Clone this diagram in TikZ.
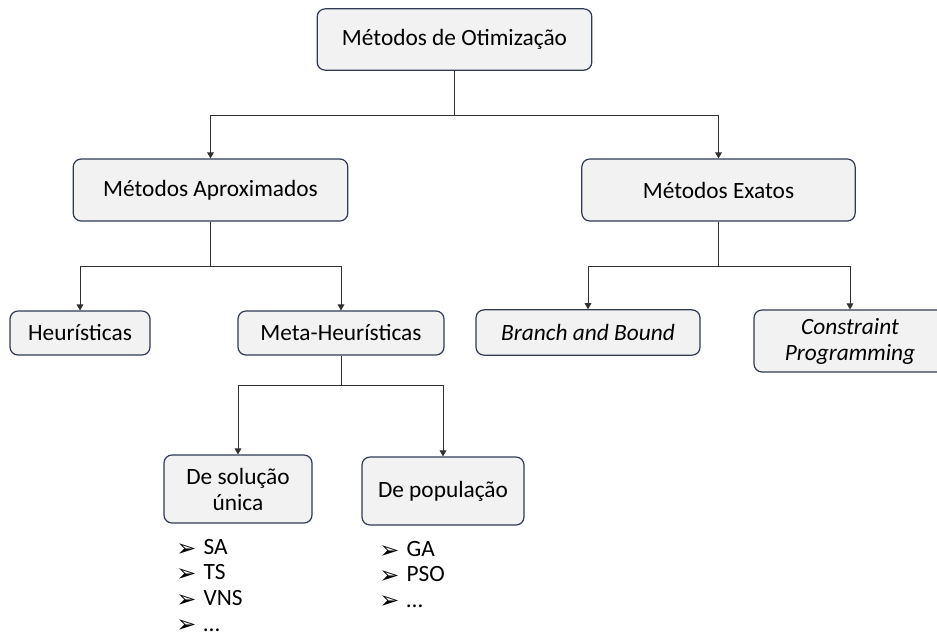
\documentclass[tikz,border=0pt]{standalone}
\usepackage{fontspec}
\setmainfont{Carlito}
\newfontfamily\dingfont{DejaVu Sans}
\usetikzlibrary{arrows.meta}
\definecolor{boxline}{HTML}{2F3B55}
\definecolor{boxfill}{HTML}{F2F2F2}
\definecolor{wire}{HTML}{303030}
% arrowhead bullet for the method lists
\newcommand{\bul}{\makebox[20.5pt][l]{\dingfont\fontsize{18pt}{18pt}\selectfont\raisebox{-1pt}{➢}}}
\tikzset{
  box/.style={draw=boxline, fill=boxfill, line width=0.9pt, rounded corners=6pt,
    align=center, inner sep=2pt, font=\fontsize{17.5pt}{19.5pt}\selectfont},
  wireline/.style={draw=wire, line width=0.75pt},
  arr/.style={wireline, -{Triangle[length=4.5pt,width=5pt]}},
  listitem/.style={anchor=west, inner sep=0pt, font=\fontsize{17.5pt}{20pt}\selectfont}
}
\begin{document}
\begin{tikzpicture}[x=0.75pt, y=-0.75pt]
\useasboundingbox (0,0) rectangle (937,637);
\begin{scope}
\clip (0,0) rectangle (937,637);

% boxes
\node[box, minimum width=206pt, minimum height=46pt] (top) at (454.5,39.5) {Métodos de Otimização};
\node[box, minimum width=206pt, minimum height=46.5pt] (aprox) at (210.5,190) {Métodos Aproximados};
\node[box, minimum width=205pt, minimum height=46.5pt] (exatos) at (718.5,190) {Métodos Exatos};
\node[box, minimum width=105pt, minimum height=33pt] (heur) at (80,333) {Heurísticas};
\node[box, minimum width=154.5pt, minimum height=33pt] (meta) at (341,333) {Meta-Heurísticas};
\node[box, minimum width=168pt, minimum height=34pt, font=\fontsize{17.5pt}{19.5pt}\selectfont\itshape] (bb) at (588,332.5) {Branch and Bound};
\node[box, minimum width=144pt, minimum height=46.5pt, font=\fontsize{17.5pt}{19.5pt}\selectfont\itshape] (cp) at (850,341) {Constraint\\Programming};
\node[box, minimum width=111pt, minimum height=51pt] (unica) at (238,489) {De solução\\única};
\node[box, minimum width=121.5pt, minimum height=51pt] (pop) at (443,491) {De população};

% junctions
\coordinate (j1) at (454.5,115);
\coordinate (j2) at (210.5,266);
\coordinate (j3) at (718.5,266);
\coordinate (j4) at (341,385);

% connectors
\draw[wireline] (top.south) -- (j1);
\draw[arr] (j1) -| (aprox.north);
\draw[arr] (j1) -| (exatos.north);
\draw[wireline] (aprox.south) -- (j2);
\draw[arr] (j2) -| (heur.north);
\draw[arr] (j2) -| (meta.north);
\draw[wireline] (exatos.south) -- (j3);
\draw[arr] (j3) -| (bb.north);
\draw[arr] (j3) -| (cp.north);
\draw[wireline] (meta.south) -- (j4);
\draw[arr] (j4) -| (unica.north);
\draw[arr] (j4) -| (pop.north);

% lists of methods
\node[listitem] (sa) at (176,548) {\bul SA};
\node[listitem] (ts) at (176,573) {\bul TS};
\node[listitem] (vns) at (176,599) {\bul VNS};
\node[listitem] (d1) at (176,626) {\bul …};
\node[listitem] (ga) at (379,550) {\bul GA};
\node[listitem] (pso) at (379,575) {\bul PSO};
\node[listitem] (d2) at (379,602) {\bul …};
\end{scope}
\end{tikzpicture}
\end{document}
